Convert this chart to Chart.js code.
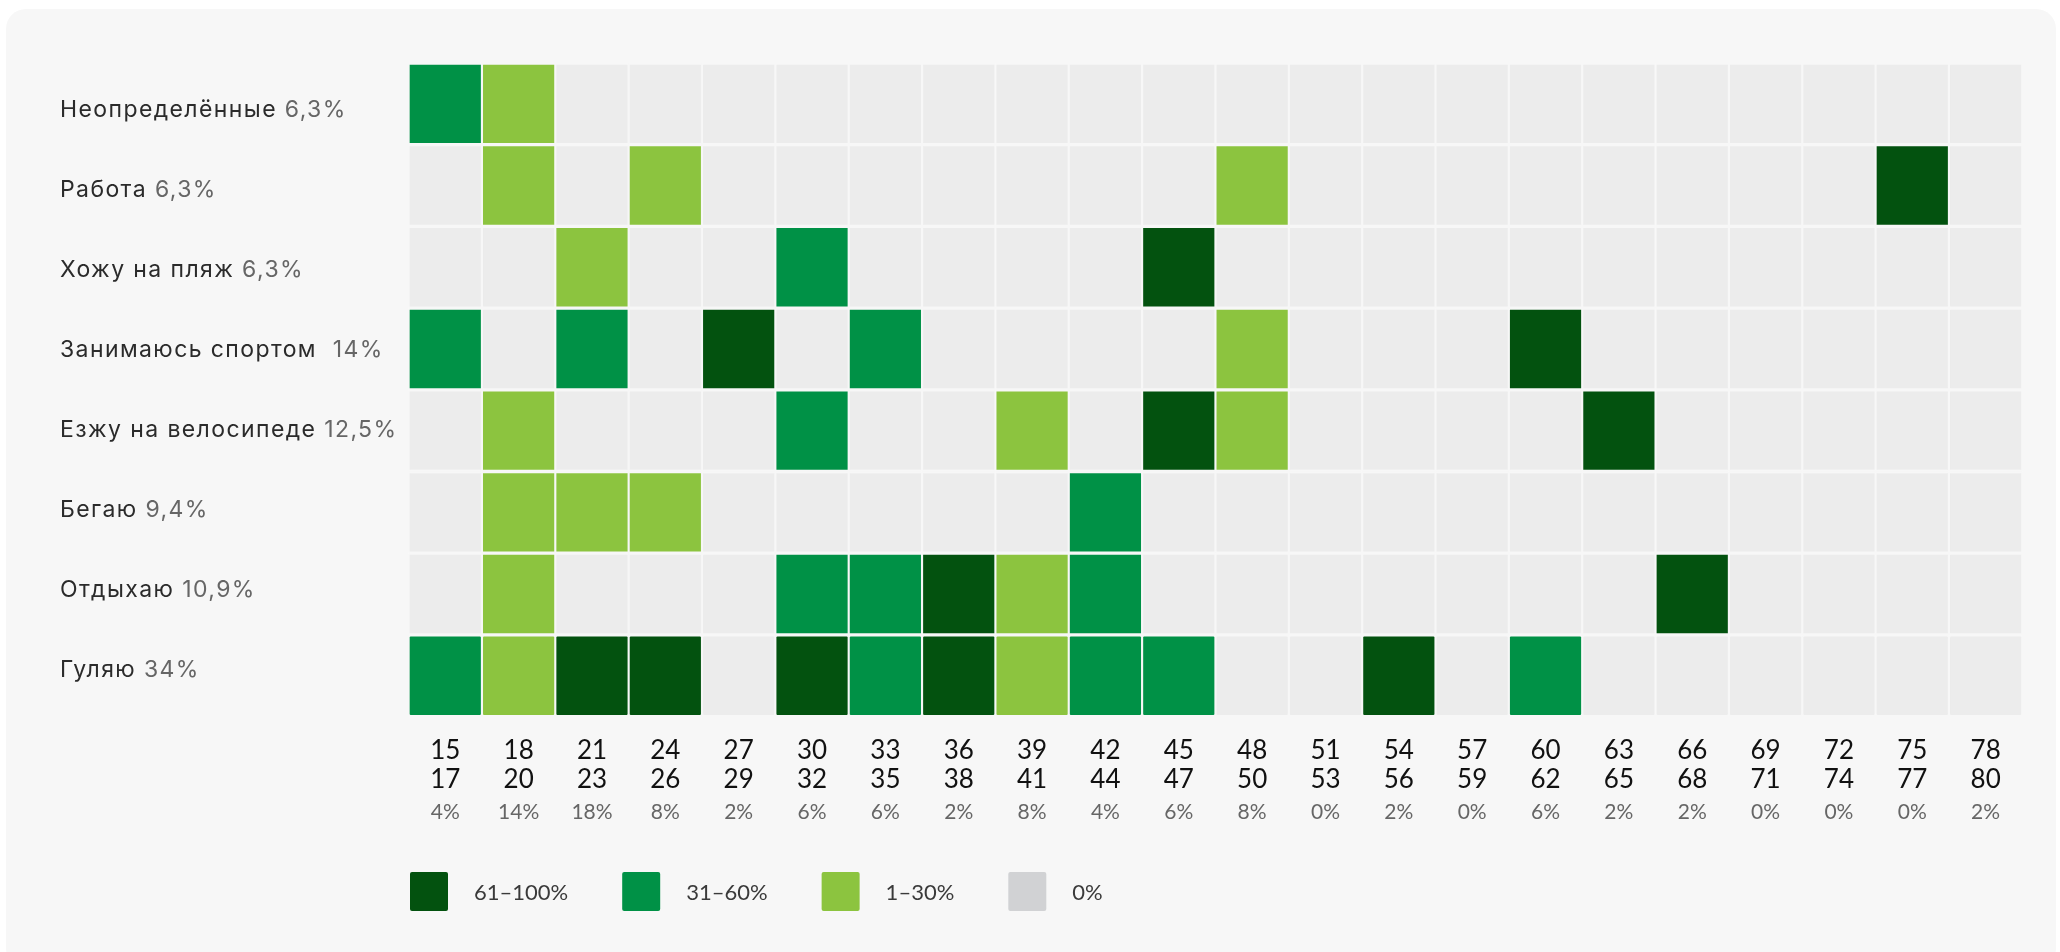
<!DOCTYPE html>
<html lang="ru">
<head>
    <meta charset="UTF-8">
    <title>Активности по возрастам</title>
    <script src="https://cdn.jsdelivr.net/npm/chart.js@4.4.1/dist/chart.umd.min.js"></script>
    <style>
        html, body{
            margin: 0;
            padding: 0;
            background: #fff;
            overflow: hidden;
        }
        .card{
            position: absolute;
            left: 6px;
            top: 9px;
            width: 2050px;
            height: 960px;
            background: #f7f7f7;
            border-radius: 20px;
        }
        .wrap{
            position: absolute;
            left: 0;
            top: 0;
            width: 2060px;
            height: 952px;
        }
    </style>
</head>
<body>
    <div class="card"></div>
    <div class="wrap"><canvas id="heat"></canvas></div>

    <script>
        // age groups: first and second line of every column label
        var ageFrom = ['15', '18', '21', '24', '27', '30', '33', '36', '39', '42', '45',
                       '48', '51', '54', '57', '60', '63', '66', '69', '72', '75', '78'];
        var ageTo   = ['17', '20', '23', '26', '29', '32', '35', '38', '41', '44', '47',
                       '50', '53', '56', '59', '62', '65', '68', '71', '74', '77', '80'];
        var ageShare = ['4%', '14%', '18%', '8%', '2%', '6%', '6%', '2%', '8%', '4%', '6%',
                        '8%', '0%', '2%', '0%', '6%', '2%', '2%', '0%', '0%', '0%', '2%'];

        var rowNames = ['Неопределённые', 'Работа', 'Хожу на пляж', 'Занимаюсь спортом ',
                        'Езжу на велосипеде', 'Бегаю', 'Отдыхаю', 'Гуляю'];
        var rowShares = ['6,3%', '6,3%', '6,3%', '14%', '12,5%', '9,4%', '10,9%', '34%'];

        // 0 = 0%, 1 = 1–30%, 2 = 31–60%, 3 = 61–100%
        var neopredelennye = [2,1,0,0,0,0,0,0,0,0,0,0,0,0,0,0,0,0,0,0,0,0];
        var rabota         = [0,1,0,1,0,0,0,0,0,0,0,1,0,0,0,0,0,0,0,0,3,0];
        var plyazh         = [0,0,1,0,0,2,0,0,0,0,3,0,0,0,0,0,0,0,0,0,0,0];
        var sport          = [2,0,2,0,3,0,2,0,0,0,0,1,0,0,0,3,0,0,0,0,0,0];
        var velosiped      = [0,1,0,0,0,2,0,0,1,0,3,1,0,0,0,0,3,0,0,0,0,0];
        var begayu         = [0,1,1,1,0,0,0,0,0,2,0,0,0,0,0,0,0,0,0,0,0,0];
        var otdykhayu      = [0,1,0,0,0,2,2,3,1,2,0,0,0,0,0,0,0,3,0,0,0,0];
        var gulyayu        = [2,1,3,3,0,3,2,3,1,2,2,0,0,3,0,2,0,0,0,0,0,0];
        var levels = [neopredelennye, rabota, plyazh, sport, velosiped, begayu, otdykhayu, gulyayu];

        var levelColors = ['#ececec', '#8cc43f', '#009146', '#03520f'];
        var legendLabels = ['61–100%', '31–60%', '1–30%', '0%'];
        var legendColors = ['#03520f', '#009146', '#8cc43f', '#d1d2d4'];

        var fontFamily = 'Lato, "Noto Sans", sans-serif';
        var rowFont = '23px Inter, "Noto Sans", sans-serif';
        var cardBg = '#f7f7f7';

        // row names on the left, name dark and share grey
        const rowLabels = {
            id: 'rowLabels',
            afterDraw(chart) {
                const c = chart.ctx;
                const y = chart.scales.y;
                c.save();
                c.font = rowFont;
                c.letterSpacing = '1.4px';
                c.textBaseline = 'middle';
                c.textAlign = 'left';
                rowNames.forEach((name, i) => {
                    // labels sit a bit tighter than the rows in the original
                    const py = y.getPixelForValue(i + 0.5) + 6 - 1.7 * i;
                    c.fillStyle = '#2b2b2b';
                    c.fillText(name + ' ', 60, py);
                    const w = c.measureText(name + ' ').width;
                    c.fillStyle = '#666';
                    c.fillText(rowShares[i], 60 + w, py);
                });
                c.restore();
            }
        };

        // legend below the axes, starting at the grid's left edge
        const legendBoxes = {
            id: 'legendBoxes',
            afterDraw(chart) {
                const c = chart.ctx;
                let x = chart.chartArea.left + 1.4;
                const cy = chart.scales.x2.bottom + 55;
                c.save();
                c.font = '22px ' + fontFamily;
                c.textBaseline = 'middle';
                legendLabels.forEach((t, i) => {
                    c.fillStyle = legendColors[i];
                    c.beginPath();
                    c.roundRect(x, cy - 19.5, 38, 39, 2);
                    c.fill();
                    c.fillStyle = '#3a3a3a';
                    c.fillText(t, x + 64, cy + 1);
                    x += 64 + c.measureText(t).width + 54;
                });
                c.restore();
            }
        };

        const ctx = document.getElementById('heat').getContext('2d');
        const chart = new Chart(ctx, {
            type: 'bar',
            data: {
                labels: ageFrom.map((a, i) => [a, ageTo[i]]),
                datasets: levels.map((row, r) => ({
                    label: rowNames[r],
                    data: row.map(() => 1),
                    backgroundColor: row.map(l => levelColors[l]),
                    borderColor: cardBg,
                    borderWidth: {top: 2, bottom: 2, left: 1.4, right: 1.4},
                    borderSkipped: false,
                    borderRadius: 3,
                    barPercentage: 1,
                    categoryPercentage: 1
                }))
            },
            options: {
                responsive: true,
                maintainAspectRatio: false,
                animation: false,
                layout: {
                    padding: {left: 408.6, right: 37.7, top: 63, bottom: 115.4}
                },
                plugins: {
                    legend: {display: false},
                    tooltip: {enabled: false}
                },
                scales: {
                    x: {
                        stacked: true,
                        weight: 0,
                        grid: {display: false, drawTicks: false},
                        border: {display: false},
                        ticks: {
                            color: '#111',
                            font: {family: fontFamily, size: 26, lineHeight: '29px'},
                            padding: 20,
                            maxRotation: 0,
                            autoSkip: false
                        },
                        afterFit: s => { s.height = 80; }
                    },
                    x2: {
                        type: 'category',
                        labels: ageShare,
                        position: 'bottom',
                        weight: 1,
                        offset: true,
                        grid: {display: false, drawTicks: false},
                        border: {display: false},
                        ticks: {
                            color: '#666',
                            font: {family: fontFamily, size: 21, lineHeight: '24px'},
                            padding: 4,
                            maxRotation: 0,
                            autoSkip: false
                        },
                        afterFit: s => { s.height = 40; }
                    },
                    y: {
                        stacked: true,
                        min: 0,
                        max: 8,
                        reverse: true,
                        display: false
                    }
                }
            },
            plugins: [rowLabels, legendBoxes]
        });
    </script>
</body>
</html>
